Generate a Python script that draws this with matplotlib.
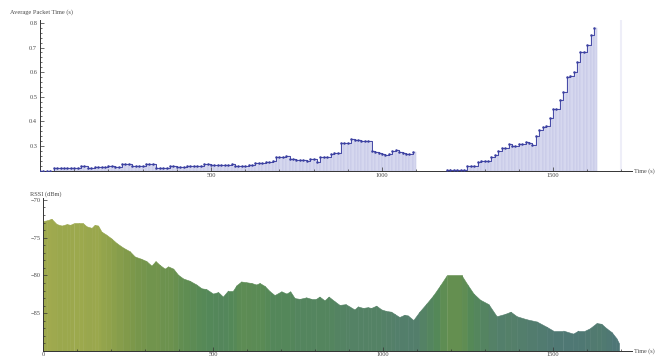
import numpy as np
import matplotlib
matplotlib.use("Agg")
import matplotlib.pyplot as plt
from matplotlib.colors import LinearSegmentedColormap
from matplotlib.ticker import MultipleLocator, FixedLocator

# ---------------- data ----------------
# Average packet time, segment 1 (t = 0..1090 s, every 10 s)
pkt_t1 = list(range(0, 1100, 10))
pkt_v1 = [0.200, 0.200, 0.200, 0.200, 0.211, 0.211, 0.211, 0.210, 0.211, 0.211,
          0.211, 0.211, 0.217, 0.217, 0.209, 0.209, 0.214, 0.214, 0.214, 0.214,
          0.220, 0.220, 0.214, 0.214, 0.225, 0.225, 0.225, 0.220, 0.220, 0.220,
          0.220, 0.225, 0.225, 0.225, 0.212, 0.212, 0.212, 0.212, 0.218, 0.218,
          0.213, 0.213, 0.213, 0.219, 0.219, 0.219, 0.219, 0.219, 0.228, 0.228,
          0.221, 0.222, 0.222, 0.221, 0.222, 0.222, 0.225, 0.219, 0.219, 0.217,
          0.217, 0.222, 0.222, 0.230, 0.230, 0.230, 0.234, 0.234, 0.240, 0.256,
          0.255, 0.254, 0.257, 0.245, 0.245, 0.243, 0.244, 0.244, 0.240, 0.248,
          0.246, 0.236, 0.255, 0.254, 0.256, 0.268, 0.270, 0.272, 0.313, 0.312,
          0.310, 0.327, 0.325, 0.325, 0.320, 0.320, 0.318, 0.280, 0.275, 0.270,
          0.268, 0.262, 0.266, 0.278, 0.283, 0.276, 0.270, 0.266, 0.268, 0.277]
# Average packet time, segment 2 (t = 1190..1620 s, every 10 s)
pkt_t2 = list(range(1190, 1630, 10))
pkt_v2 = [0.201, 0.201, 0.201, 0.201, 0.201, 0.201, 0.218, 0.218, 0.220, 0.236,
          0.237, 0.237, 0.240, 0.256, 0.265, 0.278, 0.290, 0.293, 0.308, 0.300,
          0.300, 0.308, 0.308, 0.315, 0.312, 0.302, 0.340, 0.365, 0.378, 0.380,
          0.412, 0.449, 0.449, 0.487, 0.520, 0.579, 0.585, 0.600, 0.642, 0.683,
          0.683, 0.710, 0.750, 0.780]

# RSSI (dBm)
rssi_t = [0, 12, 25, 40, 55, 70, 80, 90, 105, 118, 128, 143, 152, 162, 172, 186, 201,
          216, 235, 255, 270, 289, 304, 319, 331, 343, 358, 368, 383, 397, 412, 431,
          451, 466, 480, 500, 515, 529, 544, 559, 569, 583, 598, 613, 627, 637, 652,
          667, 681, 701, 716, 727, 740, 755, 774, 789, 803, 813, 828, 840, 857, 872,
          890, 901, 916, 926, 941, 955, 965, 980, 995, 1009, 1024, 1034, 1048, 1063,
          1073, 1089, 1107, 1128, 1148, 1168, 1187, 1231, 1248, 1266, 1285, 1310,
          1334, 1358, 1375, 1393, 1422, 1452, 1481, 1500, 1530, 1559, 1574, 1594,
          1608, 1628, 1642, 1657, 1672, 1686, 1694]
rssi_v = [-72.8, -72.7, -72.5, -73.2, -73.4, -73.2, -73.3, -73.1, -73.1, -73.1, -73.5,
          -73.7, -73.3, -73.4, -74.2, -74.6, -75.1, -75.7, -76.3, -76.8, -77.5, -77.8,
          -78.1, -78.7, -78.1, -78.6, -79.1, -78.8, -79.1, -79.9, -80.4, -80.7, -81.2,
          -81.7, -81.8, -82.4, -82.2, -82.8, -82.0, -82.0, -81.3, -80.8, -80.9, -81.0,
          -81.2, -81.0, -81.4, -82.1, -82.6, -82.1, -82.4, -82.1, -83.0, -83.1, -82.9,
          -83.1, -83.1, -82.8, -83.3, -82.8, -83.4, -83.9, -83.8, -84.1, -84.5, -84.1,
          -84.3, -84.2, -84.3, -84.0, -84.5, -84.7, -84.8, -85.1, -85.5, -85.2, -85.3,
          -85.9, -84.8, -83.7, -82.6, -81.3, -80.0, -80.0, -81.2, -82.4, -83.2, -83.8,
          -85.4, -85.1, -84.8, -85.4, -85.8, -86.1, -86.8, -87.3, -87.3, -87.7, -87.3,
          -87.3, -87.0, -86.3, -86.4, -87.0, -87.5, -88.3, -89.0]

x_major = [500, 1000, 1500]
top_yticks = [0.3, 0.4, 0.5, 0.6, 0.7, 0.8]
bot_yticks = [-85, -80, -75, -70]

# ---------------- style ----------------
FONT = ["Liberation Serif", "DejaVu Serif"]
TXT = "#4a4a4a"
AX = "#333333"
FS = 4.6

fig = plt.figure(figsize=(6.56, 3.56), dpi=100)

def style_axes(ax, xlabels_zero, xpad=2):
    for s in ["top", "right"]:
        ax.spines[s].set_visible(False)
    for s in ["left", "bottom"]:
        ax.spines[s].set_color(AX)
        ax.spines[s].set_linewidth(0.7)
    ax.xaxis.set_major_locator(FixedLocator(([0] if xlabels_zero else []) + x_major))
    ax.xaxis.set_minor_locator(MultipleLocator(100))
    ax.tick_params(which="both", direction="in", colors=AX, labelcolor=TXT,
                   labelsize=FS, width=0.5)
    ax.tick_params(which="major", length=3, pad=2)
    ax.tick_params(axis="x", which="major", pad=xpad)
    ax.tick_params(which="minor", length=1.5)
    for lab in ax.get_xticklabels() + ax.get_yticklabels():
        lab.set_family(FONT)

# ---------- top: average packet time ----------
ax1 = fig.add_axes([40/656, 1-170.5/356, 592/656, 151/356])
ax1.set_xlim(0, 1731)
ax1.set_ylim(0.2, 0.814)
ax1.axvline(1700, color="#eeeef8", lw=1.5, zorder=0)
for tt, vv in [(pkt_t1, pkt_v1), (pkt_t2, pkt_v2)]:
    tt = np.array(tt, float); vv = np.array(vv)
    w = np.diff(tt, append=tt[-1] + 10)
    ax1.bar(tt, vv - 0.2, width=w, bottom=0.2, align="edge",
            color="#d5d7ee", edgecolor="#bfc2e3", linewidth=0.35, zorder=1)
    ax1.step(tt, vv, where="post", color="#4448a6", lw=0.7, zorder=3)
    ax1.plot(tt, vv, "o", ms=0.8, color="#3b40a0", zorder=4)
ax1.yaxis.set_major_locator(FixedLocator(top_yticks))
ax1.yaxis.set_minor_locator(MultipleLocator(0.02))
style_axes(ax1, False)
ax1.set_yticklabels([f"{v:.1f}" for v in top_yticks])
for lab in ax1.get_yticklabels():
    lab.set_family(FONT)
fig.text(10/656, 1-12/356, "Average Packet Time (s)", fontsize=FS, color=TXT,
         family=FONT, va="center", ha="left")
fig.text(634/656, 1-171/356, "Time (s)", fontsize=4.4, color=TXT,
         family=FONT, va="center", ha="left")

# ---------- bottom: RSSI ----------
ax2 = fig.add_axes([43/656, 1-351/356, 589/656, 153/356])
ax2.set_xlim(0, 1732)
ax2.set_ylim(-90, -69.75)
cmap = LinearSegmentedColormap.from_list("rssi", [
    (0.00, "#4e7676"), (0.20, "#548069"), (0.39, "#548858"), (0.52, "#648f50"),
    (0.71, "#7d984a"), (0.90, "#96a64c"), (1.00, "#a0aa4e")])
vmin, vmax = -88.0, -72.5
rt = np.array(rssi_t, float); rv = np.array(rssi_v)
for i in range(len(rt) - 1):
    m = 0.5 * (rv[i] + rv[i + 1])
    c = cmap(np.clip((m - vmin) / (vmax - vmin), 0, 1))
    ax2.fill_between(rt[i:i + 2], rv[i:i + 2], -90, color=c, lw=0.4,
                     edgecolor=c, zorder=1)
ax2.yaxis.set_major_locator(FixedLocator(bot_yticks))
ax2.yaxis.set_minor_locator(MultipleLocator(1))
style_axes(ax2, True, xpad=0.8)
ax2.set_yticklabels([f"\u2212{abs(v)}" for v in bot_yticks])
for lab in ax2.get_yticklabels():
    lab.set_family(FONT)
fig.text(30/656, 1-194/356, "RSSI (dBm)", fontsize=FS, color=TXT,
         family=FONT, va="center", ha="left")
fig.text(634/656, 1-351/356, "Time (s)", fontsize=4.4, color=TXT,
         family=FONT, va="center", ha="left")

fig.savefig("out.png", dpi=100)
